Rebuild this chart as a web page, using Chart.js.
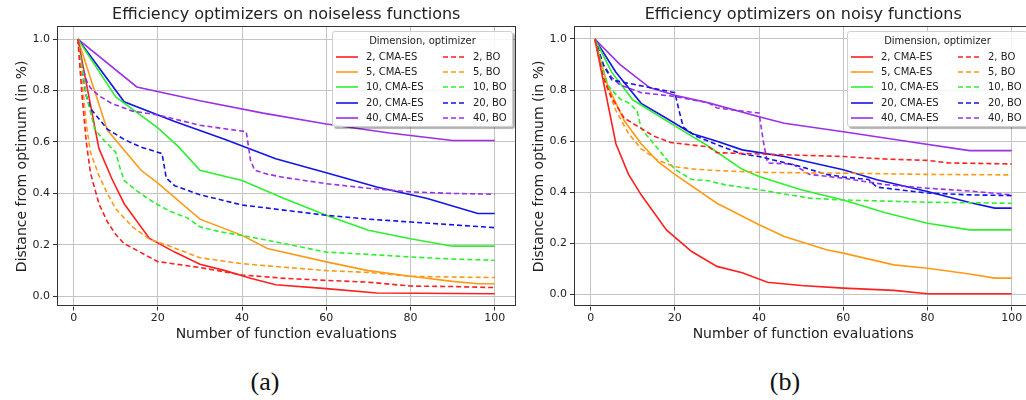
<!DOCTYPE html>
<html>
<head>
<meta charset="utf-8">
<script src="https://cdn.jsdelivr.net/npm/chart.js@4.4.1/dist/chart.umd.min.js"></script>
<style>
  html, body { margin: 0; padding: 0; background: #fff; }
  body { width: 1026px; height: 400px; position: relative; overflow: hidden; font-family: 'DejaVu Sans', sans-serif; }
  canvas { position: absolute; top: 0; }
  #chartA { left: 0; }
  #chartB { left: 517px; }
  .legend { position: absolute; top: 31px; width: 181px; height: 96px; background: rgba(255,255,255,0.85); border: 1px solid #cfcfcf; border-radius: 3px; box-shadow: 2px 2px 1px rgba(0,0,0,0.3); font-size: 10px; color: #222; box-sizing: border-box; }
  .legend .ttl { position: absolute; top: 2px; left: 0; right: 0; text-align: center; line-height: 14px; }
  .legend .row { position: absolute; height: 14px; line-height: 14px; white-space: nowrap; }
  .legend svg { position: absolute; left: 0; top: 5px; }
  .legend span { position: absolute; left: 30px; }
  .cap { position: absolute; top: 367px; width: 60px; text-align: center; font-family: 'Liberation Serif', serif; font-size: 26px; line-height: 30px; color: #111; }
</style>
</head>
<body>
<canvas id="chartA" width="520" height="350"></canvas>
<canvas id="chartB" width="520" height="350"></canvas>
<div class="legend" id="legendA" style="left:332px"></div>
<div class="legend" id="legendB" style="left:847px"></div>
<div class="cap" style="left:235px">(a)</div>
<div class="cap" style="left:755px">(b)</div>
<script>
const dims = [2, 5, 10, 20, 40];
const xTicks = [0, 20, 40, 60, 80, 100];
const yTicks = [0, 0.2, 0.4, 0.6, 0.8, 1.0];

// (a) noiseless functions, [evaluations, distance]
const nlCma2 = [[1,1.0],[6,0.575],[9,0.46],[12,0.36],[18,0.225],[24,0.172],[30,0.125],[36,0.1],[42,0.07],[48,0.045],[60,0.03],[72,0.013],[100,0.01]];
const nlCma5 = [[1,1.0],[8,0.646],[16,0.49],[20,0.44],[30,0.30],[40,0.237],[46,0.186],[60,0.134],[70,0.1],[80,0.078],[90,0.058],[96,0.049],[100,0.049]];
const nlCma10 = [[1,1.0],[10,0.775],[20,0.655],[25,0.58],[30,0.49],[40,0.45],[50,0.38],[60,0.315],[70,0.257],[80,0.224],[90,0.195],[100,0.195]];
const nlCma20 = [[1,1.0],[12,0.756],[24,0.68],[36,0.61],[48,0.535],[60,0.48],[72,0.425],[84,0.38],[96,0.322],[100,0.322]];
const nlCma40 = [[1,1.0],[15,0.814],[30,0.76],[45,0.712],[60,0.67],[75,0.635],[90,0.606],[100,0.606]];
const nlBo2 = [[1,1.0],[2,0.78],[3,0.6],[4,0.48],[6,0.36],[8,0.29],[10,0.24],[12,0.205],[16,0.17],[20,0.135],[30,0.112],[40,0.083],[50,0.07],[60,0.062],[70,0.055],[80,0.04],[90,0.038],[100,0.034]];
const nlBo5 = [[1,1.0],[2,0.84],[3,0.67],[4,0.56],[6,0.47],[8,0.4],[10,0.34],[14,0.27],[18,0.222],[22,0.2],[26,0.175],[30,0.15],[40,0.127],[50,0.113],[60,0.1],[70,0.093],[80,0.078],[90,0.075],[100,0.073]];
const nlBo10 = [[1,1.0],[3,0.78],[5,0.65],[7,0.61],[10,0.56],[11,0.5],[12,0.45],[15,0.41],[19,0.365],[23,0.33],[27,0.305],[30,0.27],[35,0.25],[40,0.237],[50,0.205],[60,0.172],[70,0.163],[80,0.153],[90,0.145],[100,0.14]];
const nlBo20 = [[1,1.0],[2,0.88],[3,0.78],[4,0.73],[6,0.69],[8,0.65],[12,0.61],[16,0.58],[21,0.555],[22,0.46],[24,0.43],[30,0.395],[40,0.355],[50,0.335],[60,0.315],[70,0.3],[80,0.289],[90,0.278],[100,0.267]];
const nlBo40 = [[1,1.0],[2,0.9],[3,0.84],[4,0.81],[6,0.78],[9,0.75],[14,0.72],[20,0.705],[30,0.665],[41,0.64],[42,0.53],[43,0.49],[46,0.475],[50,0.462],[60,0.438],[70,0.42],[80,0.406],[90,0.4],[100,0.397]];

// (b) noisy functions
const nyCma2 = [[1,1.0],[6,0.59],[9,0.47],[12,0.39],[18,0.253],[24,0.168],[30,0.11],[36,0.085],[42,0.048],[50,0.035],[60,0.025],[72,0.016],[80,0.003],[100,0.003]];
const nyCma5 = [[1,1.0],[4,0.82],[8,0.68],[12,0.59],[16,0.52],[20,0.47],[30,0.357],[40,0.273],[46,0.227],[56,0.175],[60,0.162],[72,0.116],[80,0.103],[90,0.08],[96,0.064],[100,0.064]];
const nyCma10 = [[1,1.0],[5,0.87],[10,0.762],[20,0.66],[28,0.58],[36,0.49],[40,0.462],[50,0.41],[60,0.37],[70,0.32],[80,0.279],[90,0.253],[100,0.253]];
const nyCma20 = [[1,1.0],[6,0.87],[12,0.748],[18,0.69],[24,0.63],[30,0.6],[36,0.566],[46,0.54],[60,0.488],[68,0.449],[80,0.403],[90,0.36],[96,0.338],[100,0.338]];
const nyCma40 = [[1,1.0],[7,0.9],[14,0.81],[20,0.78],[28,0.75],[40,0.696],[46,0.67],[60,0.637],[75,0.6],[90,0.563],[100,0.563]];
const nyBo2 = [[1,1.0],[3,0.85],[5,0.77],[8,0.69],[11,0.66],[15,0.62],[19,0.595],[24,0.585],[28,0.578],[30,0.555],[40,0.55],[50,0.545],[60,0.54],[70,0.53],[80,0.525],[85,0.515],[100,0.511]];
const nyBo5 = [[1,1.0],[3,0.85],[6,0.72],[9,0.63],[12,0.57],[16,0.525],[20,0.5],[25,0.49],[30,0.485],[40,0.478],[60,0.475],[80,0.47],[100,0.468]];
const nyBo10 = [[1,1.0],[4,0.82],[7,0.765],[9,0.75],[11,0.72],[12,0.65],[14,0.61],[17,0.55],[20,0.49],[24,0.45],[28,0.445],[32,0.429],[40,0.41],[52,0.377],[60,0.37],[80,0.361],[100,0.357]];
const nyBo20 = [[1,1.0],[3,0.9],[5,0.84],[7,0.833],[14,0.81],[20,0.79],[21,0.72],[22,0.655],[25,0.62],[31,0.58],[36,0.55],[40,0.54],[50,0.5],[56,0.47],[60,0.46],[66,0.45],[68,0.42],[80,0.397],[90,0.39],[100,0.387]];
const nyBo40 = [[1,1.0],[3,0.9],[5,0.85],[7,0.82],[12,0.79],[20,0.775],[28,0.75],[30,0.73],[40,0.71],[41,0.6],[42,0.515],[48,0.51],[52,0.47],[60,0.455],[70,0.43],[80,0.416],[90,0.405],[100,0.39]];

const colors = ['#ff2020', '#ff9a17', '#2ef02e', '#1414e6', '#9b30e6'];
const dash = [5, 3];

function series(points, i, bo) {
    return {
        label: dims[i] + (bo ? ', BO' : ', CMA-ES'),
        data: points.map(p => ({ x: p[0], y: p[1] })),
        borderColor: colors[i],
        borderWidth: 1.6,
        borderDash: bo ? dash : [],
        pointRadius: 0,
        tension: 0,
        fill: false,
        order: bo ? 0 : 1
    };
}

const framePlugin = {
    id: 'frame',
    afterDatasetsDraw(chart) {
        const { ctx, chartArea: a } = chart;
        ctx.save();
        ctx.strokeStyle = '#333';
        ctx.lineWidth = 1;
        ctx.strokeRect(Math.round(a.left) + 0.5, Math.round(a.top) + 0.5, Math.round(a.width) - 1, Math.round(a.height) - 1);
        ctx.restore();
    }
};

const tickFont = { family: 'DejaVu Sans', size: 11 };
const labelFont = { family: 'DejaVu Sans', size: 14 };

function makeOptions(titleText, yMin) {
    return {
        responsive: false,
        animation: false,
        layout: { padding: { left: 0, right: 4.5, top: 0, bottom: 0 } },
        plugins: {
            legend: { display: false },
            tooltip: { enabled: false },
            title: {
                display: true, text: titleText, color: '#222', fullSize: false,
                font: { family: 'DejaVu Sans', size: 16, weight: 'normal' },
                padding: { top: 5, bottom: 2 }
            }
        },
        scales: {
            x: {
                type: 'linear', min: -3.95, max: 104.95,
                afterBuildTicks: s => { s.ticks = xTicks.map(v => ({ value: v })); },
                afterFit: s => { s.height = 43.5; },
                ticks: { color: '#222', font: tickFont, padding: 1, maxRotation: 0 },
                grid: { color: '#c4c4c4', lineWidth: 1, tickColor: '#333', tickLength: 4 },
                border: { display: false },
                title: { display: true, text: 'Number of function evaluations', color: '#222', font: labelFont, padding: { top: 0, bottom: 7 } }
            },
            y: {
                min: yMin, max: 1.05,
                afterBuildTicks: s => { s.ticks = yTicks.map(v => ({ value: v })); },
                afterFit: s => { s.width = 57; },
                ticks: { color: '#222', font: tickFont, padding: 3, callback: v => v.toFixed(1) },
                grid: { color: '#c4c4c4', lineWidth: 1, tickColor: '#333', tickLength: 4 },
                border: { display: false },
                title: { display: true, text: 'Distance from optimum (in %)', color: '#222', font: labelFont, padding: { top: 13.6, bottom: 0 } }
            }
        }
    };
}

function buildLegend(el, datasets) {
    let html = '<div class="ttl">Dimension, optimizer</div>';
    datasets.forEach((ds, k) => {
        const col = ds.order === 0 ? 1 : 0;
        const row = k % 5;
        const dashAttr = ds.borderDash.length ? ` stroke-dasharray="${ds.borderDash.join(',')}"` : '';
        html += `<div class="row" style="left:${col ? 110 : 3}px;top:${18 + row * 15.2}px">` +
            `<svg width="22" height="4"><line x1="0" y1="2" x2="22" y2="2" stroke="${ds.borderColor}" stroke-width="1.6"${dashAttr}/></svg>` +
            `<span>${ds.label}</span></div>`;
    });
    el.innerHTML = html;
}

function initCharts() {
    const dsA = [nlCma2, nlCma5, nlCma10, nlCma20, nlCma40].map((p, i) => series(p, i, false))
        .concat([nlBo2, nlBo5, nlBo10, nlBo20, nlBo40].map((p, i) => series(p, i, true)));
    const dsB = [nyCma2, nyCma5, nyCma10, nyCma20, nyCma40].map((p, i) => series(p, i, false))
        .concat([nyBo2, nyBo5, nyBo10, nyBo20, nyBo40].map((p, i) => series(p, i, true)));

    new Chart(document.getElementById('chartA'), {
        type: 'line',
        data: { datasets: dsA },
        options: makeOptions('Efficiency optimizers on noiseless functions', -0.0395),
        plugins: [framePlugin]
    });
    new Chart(document.getElementById('chartB'), {
        type: 'line',
        data: { datasets: dsB },
        options: makeOptions('Efficiency optimizers on noisy functions', -0.047),
        plugins: [framePlugin]
    });

    buildLegend(document.getElementById('legendA'), dsA);
    buildLegend(document.getElementById('legendB'), dsB);
}

initCharts();
</script>
</body>
</html>
